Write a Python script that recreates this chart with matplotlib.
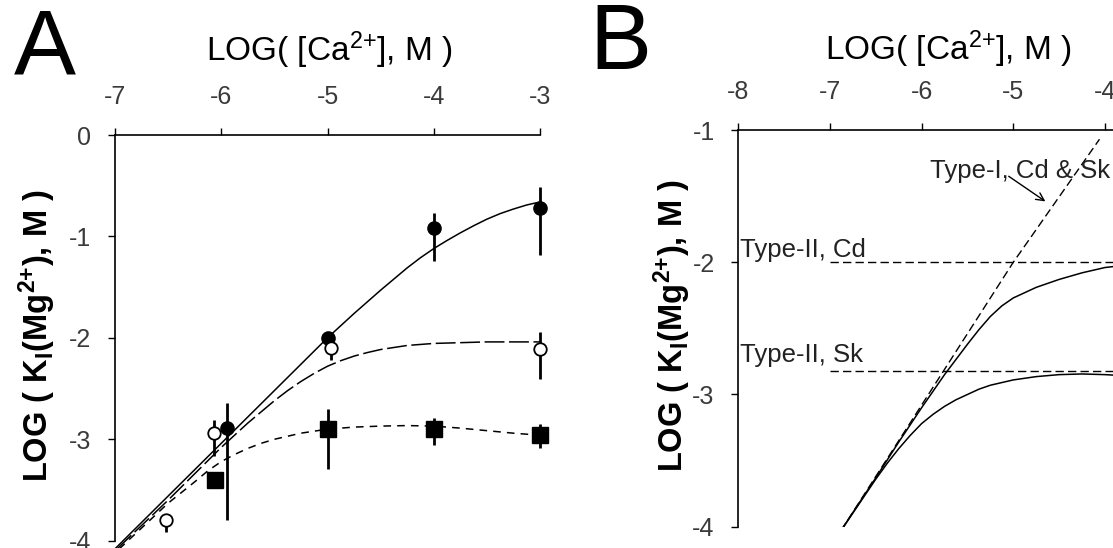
import matplotlib
matplotlib.use("Agg")
import matplotlib.pyplot as plt
import numpy as np

plt.rcParams['font.family'] = ['Liberation Sans', 'DejaVu Sans']
plt.rcParams['mathtext.fontset'] = 'custom'
plt.rcParams['mathtext.rm'] = 'Liberation Sans'
plt.rcParams['mathtext.bf'] = 'Liberation Sans:bold'
plt.rcParams['mathtext.default'] = 'regular'

# ---------------- Panel A data ----------------
# filled circles
fc_x = [-5.95, -5.0, -4.0, -3.0]
fc_y = [-2.89, -2.00, -0.92, -0.72]
fc_hi = [-2.64, -1.94, -0.77, -0.51]
fc_lo = [-3.80, -2.06, -1.24, -1.18]
# open circles
oc_x = [-6.52, -6.07, -4.97, -3.0]
oc_y = [-3.80, -2.94, -2.10, -2.11]
oc_hi = [-3.80, -2.81, -2.00, -1.94]
oc_lo = [-3.91, -3.16, -2.22, -2.41]
# filled squares
sq_x = [-6.06, -5.0, -4.0, -3.0]
sq_y = [-3.40, -2.90, -2.90, -2.96]
sq_hi = [-3.40, -2.70, -2.79, -2.85]
sq_lo = [-3.40, -3.29, -3.06, -3.09]

# fitted curves
fit_solid_x = [-7.0, -6.5, -6.0, -5.5, -5.0, -4.75, -4.5, -4.375, -4.25, -4.125,
               -4.0, -3.875, -3.75, -3.625, -3.5, -3.375, -3.25, -3.125, -3.0]
fit_solid_y = [-4.08, -3.56, -3.04, -2.52, -2.00, -1.76, -1.53, -1.42, -1.31, -1.21,
               -1.12, -1.04, -0.965, -0.895, -0.83, -0.775, -0.73, -0.69, -0.66]
fit_long_x = [-7.0, -6.5, -6.0, -5.75, -5.5, -5.375, -5.25, -5.125, -5.0, -4.875,
              -4.75, -4.625, -4.5, -4.25, -4.0, -3.5, -3.0]
fit_long_y = [-4.10, -3.60, -3.08, -2.84, -2.62, -2.52, -2.43, -2.35, -2.28, -2.225,
              -2.18, -2.145, -2.115, -2.075, -2.055, -2.04, -2.04]
fit_short_x = [-7.0, -6.5, -6.25, -6.125, -6.0, -5.875, -5.75, -5.625, -5.5, -5.25,
               -5.0, -4.75, -4.5, -4.25, -4.0, -3.75, -3.5, -3.25, -3.0]
fit_short_y = [-4.12, -3.63, -3.42, -3.31, -3.22, -3.15, -3.09, -3.04, -3.00, -2.94,
               -2.90, -2.88, -2.87, -2.865, -2.87, -2.89, -2.915, -2.94, -2.96]

# ---------------- Panel B data ----------------
type1_x = [-6.88, -5.0, -4.06]
type1_y = [-4.03, -2.00, -1.07]
type2_cd_level = -2.00
type2_sk_level = -2.82
level_x = [-7.0, -3.0]
cd_x = [-6.88, -6.5, -6.25, -6.0, -5.75, -5.5, -5.375, -5.25, -5.125, -5.0, -4.875,
        -4.75, -4.5, -4.25, -4.0, -3.75, -3.5]
cd_y = [-4.03, -3.63, -3.36, -3.10, -2.85, -2.62, -2.51, -2.41, -2.33, -2.27, -2.23,
        -2.19, -2.13, -2.08, -2.04, -2.02, -2.01]
sk_x = [-6.88, -6.5, -6.375, -6.25, -6.125, -6.0, -5.875, -5.75, -5.625, -5.5, -5.375,
        -5.25, -5.0, -4.75, -4.5, -4.25, -4.0, -3.75, -3.5]
sk_y = [-4.03, -3.64, -3.52, -3.41, -3.31, -3.22, -3.15, -3.09, -3.04, -3.00, -2.96,
        -2.93, -2.89, -2.865, -2.85, -2.845, -2.85, -2.86, -2.86]

xlab = r'LOG( [Ca$^{2{+}}$], M )'
ylab = r'LOG ( K$_{I}$(Mg$^{2{+}}$), M )'

W, H = 1113, 548
fig = plt.figure(figsize=(W / 100, H / 100), dpi=100)

TICK_COLOR = '#3a3a3a'


def style_axes(ax):
    for s in ('right', 'bottom'):
        ax.spines[s].set_visible(False)
    for s in ('left', 'top'):
        ax.spines[s].set_linewidth(1.2)
    ax.xaxis.tick_top()
    ax.tick_params(direction='out', length=5, width=1.0, labelsize=18,
                   labelcolor=TICK_COLOR, pad=12)
    ax.tick_params(axis='x', pad=14)


def px_rect(left, top, right, bottom):
    return [left / W, 1 - bottom / H, (right - left) / W, (bottom - top) / H]


def err(y, lo, hi):
    y, lo, hi = map(np.asarray, (y, lo, hi))
    return np.vstack([y - lo, hi - y])


# ---------------- Panel A ----------------
axA = fig.add_axes(px_rect(115, 135, 540, 540.7))
axA.set_xlim(-7, -3)
axA.set_ylim(-4, 0)
style_axes(axA)
axA.set_xticks([-7, -6, -5, -4, -3])
axA.set_yticks([0, -1, -2, -3, -4])
axA.set_xticklabels(['-7', '-6', '-5', '-4', '-3'])
axA.set_yticklabels(['0', '-1', '-2', '-3', '-4'])

axA.plot(fit_solid_x, fit_solid_y, color='black', lw=1.1, clip_on=False, zorder=2)
axA.plot(fit_long_x, fit_long_y, color='black', lw=1.1, dashes=(13, 3),
         clip_on=False, zorder=2)
axA.plot(fit_short_x, fit_short_y, color='black', lw=1.1, dashes=(5, 4),
         clip_on=False, zorder=2)

axA.errorbar(sq_x, sq_y, yerr=err(sq_y, sq_lo, sq_hi), fmt='s', ms=11,
             mfc='black', mec='black', ecolor='black', elinewidth=2.0,
             capsize=0, zorder=3, clip_on=False)
axA.errorbar(fc_x, fc_y, yerr=err(fc_y, fc_lo, fc_hi), fmt='o', ms=9.5,
             mfc='black', mec='black', ecolor='black', elinewidth=2.0,
             capsize=0, zorder=4, clip_on=False)
axA.errorbar(oc_x, oc_y, yerr=err(oc_y, oc_lo, oc_hi), fmt='o', ms=9,
             mfc='white', mec='black', mew=1.3, ecolor='black', elinewidth=2.0,
             capsize=0, zorder=5, clip_on=False)

fig.text(329 / W, 1 - 50 / H, xlab, ha='center', va='center', fontsize=24)
fig.text(37 / W, 1 - 336 / H, ylab, ha='center', va='center', fontsize=23.5,
         rotation=90, fontweight='bold')
fig.text(45 / W, 1 - 50 / H, 'A', ha='center', va='center', fontsize=67)

# ---------------- Panel B ----------------
axB = fig.add_axes(px_rect(738.3, 130, 738.3 + 5 * 91.67, 526.7))
axB.set_xlim(-8, -3)
axB.set_ylim(-4, -1)
style_axes(axB)
axB.set_xticks([-8, -7, -6, -5, -4, -3])
axB.set_yticks([-1, -2, -3, -4])
axB.set_xticklabels(['-8', '-7', '-6', '-5', '-4', '-3'])
axB.set_yticklabels(['-1', '-2', '-3', '-4'])

axB.plot(type1_x, type1_y, color='black', lw=1.0, dashes=(6, 3))
axB.plot(level_x, [type2_cd_level] * 2, color='black', lw=1.0, dashes=(6, 3))
axB.plot(level_x, [type2_sk_level] * 2, color='black', lw=1.0, dashes=(6, 3))
axB.plot(cd_x, cd_y, color='black', lw=1.1)
axB.plot(sk_x, sk_y, color='black', lw=1.1)

LABEL_COLOR = '#222222'
axB.text(-7.98, type2_cd_level + 0.005, 'Type-II, Cd', ha='left', va='bottom',
         fontsize=18.5, color=LABEL_COLOR)
axB.text(-7.98, -2.79, 'Type-II, Sk', ha='left', va='bottom',
         fontsize=18.5, color=LABEL_COLOR)
axB.text(-5.91, -1.365, 'Type-I, Cd & Sk', ha='left', va='baseline',
         fontsize=18.5, color=LABEL_COLOR)
axB.annotate('', xy=(-4.65, -1.54), xytext=(-5.05, -1.35),
             arrowprops=dict(arrowstyle='->', color='black', lw=1.0,
                             shrinkA=0, shrinkB=0, mutation_scale=14))

fig.text(948 / W, 1 - 49 / H, xlab, ha='center', va='center', fontsize=24)
fig.text(672 / W, 1 - 326 / H, ylab, ha='center', va='center', fontsize=23.5,
         rotation=90, fontweight='bold')
fig.text(620 / W, 1 - 45 / H, 'B', ha='center', va='center', fontsize=67)

fig.savefig('out.png', dpi=100)
